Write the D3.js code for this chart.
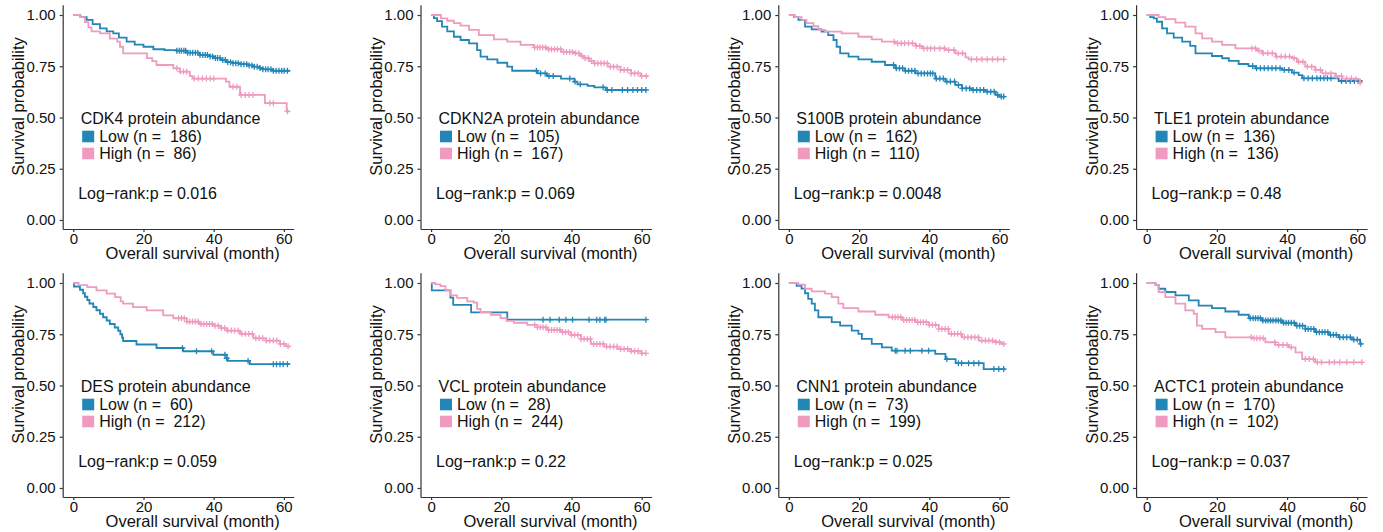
<!DOCTYPE html>
<html>
<head>
<meta charset="utf-8">
<script src="https://cdn.jsdelivr.net/npm/d3@7"></script>
<style>
  html, body { margin: 0; padding: 0; background: #fff; }
  svg text { font-family: "Liberation Sans", Arial, Helvetica, sans-serif; }
</style>
</head>
<body>
<svg id="chart" width="1383" height="532"></svg>
<script>
// Kaplan–Meier overall survival by protein abundance (Low vs High), 8 proteins

const genes = ["CDK4", "CDKN2A", "S100B", "TLE1", "DES", "VCL", "CNN1", "ACTC1"];
const nLow  = [186, 105, 162, 136, 60, 28, 73, 170];
const nHigh = [86, 167, 110, 136, 212, 244, 199, 102];
const pValues = ["0.016", "0.069", "0.0048", "0.48", "0.059", "0.22", "0.025", "0.037"];
const groupNames = ["Low", "High"];
const xTicks = [0, 20, 40, 60];
const yTicks = [0, 0.25, 0.5, 0.75, 1];

// Step curves: [month, survival probability from that month on]
const lowSteps = [
  [[0,1],[2,0.99],[3.8,0.976],[5.5,0.955],[7.6,0.935],[9.5,0.92],[11.4,0.91],[13,0.89],[15.2,0.87],[17.5,0.855],[20,0.845],[22.8,0.833],[26,0.829],[29.4,0.826],[32.3,0.816],[36,0.805],[38.5,0.798],[40,0.79],[42,0.78],[43.7,0.77],[45.5,0.765],[47.5,0.76],[49.5,0.754],[51.3,0.748],[53,0.742],[54,0.735],[57,0.728],[61.7,0.728]],
  [[0,1],[0.8,0.985],[1.7,0.97],[3.1,0.943],[4.6,0.92],[6.5,0.894],[8.4,0.878],[10.8,0.862],[13.1,0.829],[14.1,0.797],[16,0.784],[18.9,0.767],[21.7,0.748],[23.1,0.728],[30.3,0.715],[33,0.702],[37,0.69],[40.8,0.675],[41.7,0.662],[44.6,0.654],[46.5,0.647],[49.8,0.634],[61.2,0.634]],
  [[0,1],[1.5,0.99],[2.7,0.976],[4.6,0.943],[6.5,0.93],[9.3,0.919],[11.2,0.902],[12.7,0.878],[13.6,0.845],[14.6,0.813],[17,0.797],[19.8,0.784],[23.6,0.772],[27.4,0.756],[30.3,0.74],[33.1,0.728],[36,0.715],[41.7,0.69],[44.6,0.675],[47.4,0.659],[49.3,0.642],[52.2,0.634],[56,0.626],[58.9,0.61],[60,0.602],[61.7,0.602]],
  [[0,1],[1,0.99],[2,0.984],[2.9,0.967],[4.4,0.935],[5.8,0.91],[7.7,0.89],[10.1,0.87],[12.4,0.849],[13.9,0.813],[18.6,0.8],[21.5,0.789],[23.4,0.776],[26.2,0.761],[29,0.751],[31,0.74],[38.6,0.732],[41.4,0.719],[43.3,0.707],[44.3,0.691],[54.7,0.678],[61.5,0.678]],
  [[0,1],[0.2,0.983],[1.9,0.967],[2.8,0.95],[3.3,0.933],[4,0.917],[4.6,0.9],[5.7,0.883],[6.6,0.867],[7.6,0.85],[8.5,0.833],[9.5,0.817],[10.4,0.8],[11.8,0.783],[12.8,0.767],[13.4,0.75],[13.9,0.733],[14.2,0.717],[18,0.7],[23.7,0.683],[31.3,0.667],[39.9,0.65],[43.7,0.633],[44,0.62],[50.3,0.604],[61.7,0.604]],
  [[0,1],[0.2,0.964],[5.5,0.929],[6.3,0.893],[11.4,0.857],[21.7,0.821],[61.2,0.821]],
  [[0,1],[2.2,0.986],[3.6,0.973],[4.6,0.95],[5.5,0.923],[6.5,0.899],[7.4,0.866],[8.4,0.833],[12.2,0.809],[14.6,0.792],[17.9,0.768],[19.8,0.752],[20.8,0.727],[23.6,0.703],[26.5,0.686],[29.3,0.67],[41.7,0.654],[44.6,0.629],[47.5,0.609],[55.5,0.58],[61.7,0.58]],
  [[0,1],[2.5,0.99],[3.4,0.972],[5.3,0.956],[8.2,0.94],[12,0.915],[14.8,0.89],[18.6,0.877],[22.4,0.861],[26.2,0.845],[29.1,0.828],[32.9,0.817],[38.6,0.806],[42.4,0.792],[45.2,0.776],[48,0.76],[51.9,0.747],[54.7,0.735],[58.5,0.724],[60.8,0.703],[61.5,0.703]]
];

const highSteps = [
  [[0,1],[1.9,0.99],[3.3,0.965],[4.3,0.94],[5.2,0.92],[7.6,0.91],[10.4,0.885],[12.5,0.87],[13.3,0.845],[14.2,0.813],[20,0.813],[21,0.79],[22.5,0.775],[23.7,0.756],[28.5,0.74],[30.4,0.724],[33.2,0.702],[34,0.69],[43.5,0.675],[44.5,0.65],[47.5,0.61],[54.6,0.57],[60.8,0.53],[61.7,0.53]],
  [[0,1],[2.8,0.984],[4.6,0.972],[6.5,0.96],[8.4,0.948],[10.8,0.927],[13.6,0.902],[17.9,0.881],[21.7,0.87],[25.5,0.854],[29.3,0.842],[33,0.833],[37,0.82],[40.8,0.813],[42.5,0.8],[43.6,0.789],[45,0.776],[46.5,0.764],[50.3,0.748],[54,0.732],[57,0.715],[59.8,0.702],[61.5,0.696]],
  [[0,1],[1.7,0.99],[3.6,0.976],[5,0.96],[7,0.945],[8.4,0.927],[10.3,0.919],[15,0.91],[19.8,0.894],[23.6,0.881],[26.5,0.87],[30.3,0.862],[36,0.849],[37.9,0.837],[44.6,0.829],[47.4,0.813],[50.3,0.793],[51.2,0.784],[61.7,0.784]],
  [[0,1],[3.4,0.99],[5.3,0.98],[8.2,0.963],[11,0.943],[13.9,0.91],[15.8,0.886],[18.6,0.87],[21.5,0.854],[25.3,0.837],[31.4,0.826],[32.9,0.813],[36.7,0.797],[41.4,0.789],[42.8,0.772],[45.2,0.748],[48,0.732],[50,0.715],[53.8,0.702],[55.7,0.69],[59.5,0.686],[60.8,0.67],[61.3,0.67]],
  [[0,1],[1.5,0.99],[4,0.98],[6.6,0.964],[9.5,0.948],[11.9,0.931],[13.5,0.91],[14.2,0.899],[17,0.882],[20.9,0.866],[25.6,0.842],[28.5,0.828],[32.3,0.812],[36,0.8],[39.9,0.792],[42,0.78],[43.7,0.768],[47.5,0.752],[51.3,0.73],[55,0.719],[58.9,0.703],[60.5,0.691],[61.7,0.691]],
  [[0,1],[1.2,0.993],[2.7,0.985],[4.1,0.964],[5.5,0.94],[7.4,0.927],[10.3,0.91],[12.2,0.904],[13.1,0.874],[14.1,0.858],[17,0.845],[19.8,0.829],[21.5,0.815],[23.6,0.806],[27.4,0.796],[30.3,0.784],[33.1,0.771],[37,0.76],[39.8,0.747],[42.7,0.727],[45.5,0.703],[49.3,0.69],[53.1,0.678],[57,0.667],[60,0.657],[61.2,0.657]],
  [[0,1],[2.6,0.992],[4.6,0.972],[6.5,0.959],[10.3,0.948],[12.2,0.931],[14.1,0.899],[15.5,0.877],[19.8,0.861],[24.6,0.845],[28.4,0.833],[32.2,0.82],[36,0.809],[39.8,0.796],[42.7,0.776],[45.5,0.752],[49.3,0.735],[54.1,0.719],[58.9,0.711],[60.5,0.703],[61.7,0.703]],
  [[0,1],[2.5,0.99],[3.4,0.956],[5.3,0.931],[8.2,0.899],[11,0.866],[13.4,0.85],[14.3,0.792],[15.8,0.776],[19.6,0.76],[22.4,0.735],[30,0.73],[33.8,0.711],[36.7,0.698],[40.5,0.686],[42.4,0.662],[44.3,0.629],[48,0.613],[61.5,0.613]]
];

// Censoring times (months)
const lowCensor = [
  [29.5,30.2,30.8,31.5,32,32.6,33.3,34,34.8,35.5,36.1,36.9,37.6,38.2,39,39.7,40.5,41.1,41.8,42.6,43.3,44,44.8,45.5,46.3,47,47.8,48.6,49.4,50.1,50.9,51.6,52.4,53.2,54,54.8,55.5,56.3,57,57.8,58.6,59.4,60.1,61],
  [30,31.2,32.5,33.6,34.8,39.5,41,42.5,49,50.2,51.5,54.5,56,57.5,58.8,60,61.2],
  [29.8,30.6,31.5,32.4,33.2,34.1,35,35.9,36.8,37.7,38.6,39.5,40.3,41,42,43,44,45,46,47.2,48.3,49.4,50.5,51.5,52.5,53.5,54.5,55.5,56.5,57.5,58.5,59.5,60.5,61.2],
  [30.2,31.3,32.4,33.5,34.6,35.7,36.8,38,39.2,40.5,42,44.8,46,47.2,48.5,49.5,50.5,51.5,52.5,55.5,56.8,58,59.2,60.3],
  [31.1,35.1,39.4,43.2,43.7,49.8,57,57.9,58.9,59.8,61],
  [31.9,33.9,36.5,38.4,40.3,45,47.2,48.1,49.5,49.8,61.2],
  [30.3,30.8,33.1,34.6,37.9,39.8,45,48.3,49.2,51.2,52.7,54.1,58.4,59.8,61.2],
  [29.5,30.3,31,31.7,32.4,33.1,33.9,34.6,35.3,36,36.8,37.5,38.2,39,39.7,40.4,41.2,42,42.8,43.6,44.4,45.2,46,46.8,47.6,48.4,49.2,50,50.8,51.6,52.4,53.2,54,55,56,57,58,59,60,61]
];

const highCensor = [
  [29.5,30.5,31.4,32.3,34.5,35.6,36.8,37.9,39,40,45.5,46.6,47.8,49,50.1,51.2,56,57,61],
  [29.5,30.3,31,31.8,32.6,33.5,34.3,35.2,36,36.9,37.8,38.6,39.5,40.3,41.2,42.1,43,43.9,44.8,45.7,46.6,47.5,48.4,49.3,50.2,51.1,52,53,54,55,56,57,58,59,60,61.3],
  [30,31,32,33,34.1,35.2,36.3,37.3,38.4,39.4,40.4,41.5,43,44.3,45.5,47,48.2,49.5,52,53.5,55,56.5,58,59.5,61.2],
  [30,31,32,33.2,34.5,35.8,37,38.3,39.5,40.7,42,43.3,44.5,45.8,47,48.2,49.5,51,52.5,54,55.5,57,58.3,59.6,60.8],
  [30,30.8,31.6,32.4,33.2,34,34.8,35.6,36.4,37.2,38,38.8,39.6,40.4,41.3,42.2,43.1,44,45,46,47,48,49,50,51,52,53,54,55,56,57,58,59,60,61.2],
  [29.5,30.3,31.1,31.9,32.7,33.5,34.3,35.1,35.9,36.7,37.5,38.3,39.1,40,40.9,41.8,42.7,43.6,44.5,45.4,46.3,47.2,48.1,49,50,51,52,53,54,55,56,57,58,59,60,61.2],
  [29.5,30.3,31.1,31.9,32.7,33.5,34.3,35.1,35.9,36.7,37.5,38.3,39.1,40,40.9,41.8,42.7,43.6,44.5,45.4,46.3,47.2,48.1,49,50,51,52,53,54,55,56,57,58,59,60,61.2],
  [29.8,30.6,31.4,32.3,33.2,36.5,37.6,38.8,40,41.2,45.2,46.3,47.5,48.6,49.8,52,53.5,55,57,59,61.3]
];

const colors = { Low: "#2386b6", High: "#ef9bbf" };
const axisColor = "#333333";
const textColor = "#111111";

const svg = d3.select("#chart");

// survival value of a step curve at time t
function survAt(steps, t) {
  let s = steps[0][1];
  for (const [tt, v] of steps) { if (tt <= t) s = v; else break; }
  return s;
}

const line = d3.line().curve(d3.curveStepAfter);

genes.forEach((gene, i) => {
  const col = i % 4, row = Math.floor(i / 4);
  const axisX = 62.7 + col * 357.8;
  const rowOff = row * 268;

  const x = d3.scaleLinear().domain([-3.02, 62.8]).range([axisX, axisX + 231]);
  const y = d3.scaleLinear().domain([-0.044, 1.05]).range([229 + rowOff, 4.75 + rowOff]);

  const g = svg.append("g");

  // axes
  const yAxis = d3.axisLeft(y).tickValues(yTicks).tickFormat(d3.format(".2f"))
    .tickSizeInner(3).tickSizeOuter(0).tickPadding(4);
  const xAxis = d3.axisBottom(x).tickValues(xTicks).tickFormat(d3.format("d"))
    .tickSizeInner(3).tickSizeOuter(0).tickPadding(1.5);

  const ya = g.append("g").attr("transform", `translate(${axisX},0)`).call(yAxis);
  const xa = g.append("g").attr("transform", `translate(0,${y.range()[0]})`).call(xAxis);
  [ya, xa].forEach(a => {
    a.select(".domain").attr("stroke", axisColor).attr("stroke-width", 1.2);
    a.selectAll(".tick line").attr("stroke", axisColor).attr("stroke-width", 1.2);
    a.selectAll(".tick text").attr("fill", textColor)
      .style("font-size", "15px").style("font-family", '"Liberation Sans", Arial, sans-serif');
  });

  // axis titles
  g.append("text")
    .attr("x", axisX + 130).attr("y", 258.5 + rowOff)
    .attr("text-anchor", "middle").attr("fill", textColor)
    .style("font-size", "16.5px")
    .text("Overall survival (month)");
  g.append("text")
    .attr("transform", `translate(${axisX - 44.4},${106.5 + rowOff}) rotate(-90)`)
    .attr("text-anchor", "middle").attr("dominant-baseline", "central").attr("fill", textColor)
    .style("font-size", "16.5px")
    .text("Survival probability");

  // curves and censor marks
  const series = [
    { name: "Low", steps: lowSteps[i], censor: lowCensor[i] },
    { name: "High", steps: highSteps[i], censor: highCensor[i] }
  ];
  series.forEach(s => {
    g.append("path")
      .attr("d", line(s.steps.map(d => [x(d[0]), y(d[1])])))
      .attr("fill", "none").attr("stroke", colors[s.name]).attr("stroke-width", 1.8);
    g.append("g").selectAll("path").data(s.censor).join("path")
      .attr("d", t => {
        const cx = x(t), cy = y(survAt(s.steps, t));
        return `M${cx - 3},${cy}h6M${cx},${cy - 3}v6`;
      })
      .attr("stroke", colors[s.name]).attr("stroke-width", 1.3).attr("fill", "none");
  });

  // legend
  const y1 = y(1);
  g.append("text")
    .attr("x", axisX + 18).attr("y", y1 + 104)
    .attr("dominant-baseline", "central").attr("fill", textColor)
    .style("font-size", "16px")
    .text(`${gene} protein abundance`);
  const counts = [nLow[i], nHigh[i]];
  groupNames.forEach((name, k) => {
    const cy = y1 + 121.5 + k * 17;
    g.append("rect")
      .attr("x", axisX + 19.5).attr("y", cy - 5.8)
      .attr("width", 12).attr("height", 11.6)
      .attr("fill", colors[name]);
    g.append("text")
      .attr("x", axisX + 36.5).attr("y", cy)
      .attr("dominant-baseline", "central").attr("fill", textColor)
      .style("font-size", "16px").style("white-space", "pre")
      .text(`${name} (n =  ${counts[k]})`);
  });

  g.append("text")
    .attr("x", axisX + 15.5).attr("y", y1 + 179)
    .attr("dominant-baseline", "central").attr("fill", textColor)
    .style("font-size", "16px")
    .text(`Log\u2212rank:p = ${pValues[i]}`);
});
</script>
</body>
</html>
